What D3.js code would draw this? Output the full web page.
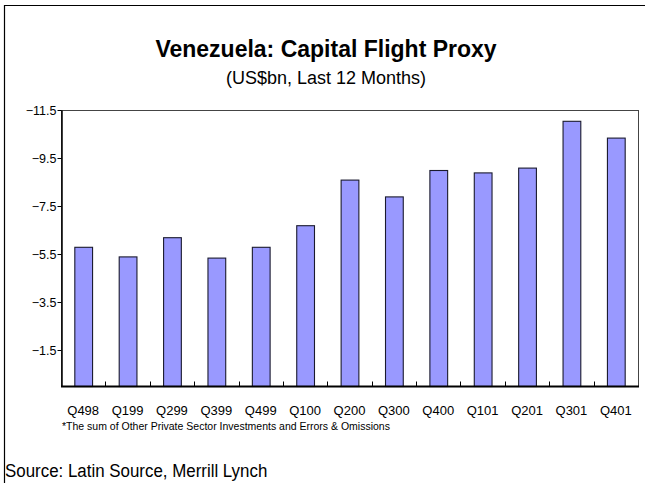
<!DOCTYPE html>
<html>
<head>
<meta charset="utf-8">
<script src="https://cdn.jsdelivr.net/npm/d3@7/dist/d3.min.js"></script>
<style>
  html, body { margin: 0; padding: 0; background: #fff; }
  svg { display: block; }
  text { font-family: "Liberation Sans", Arial, sans-serif; fill: #000; }
</style>
</head>
<body>
<svg id="chart" width="645" height="483"></svg>
<script>
// Quarterly capital flight proxy, US$bn, trailing 12 months
const quarters = ["Q498", "Q199", "Q299", "Q399", "Q499", "Q100", "Q200",
                  "Q300", "Q400", "Q101", "Q201", "Q301", "Q401"];
const flight = [-5.8, -5.4, -6.2, -5.35, -5.8, -6.7, -8.6,
                -7.9, -9.0, -8.9, -9.1, -11.05, -10.35];
const yTicks = [-11.5, -9.5, -7.5, -5.5, -3.5, -1.5];

const titleText = "Venezuela: Capital Flight Proxy";
const subtitleText = "(US$bn, Last 12 Months)";
const footnoteText = "*The sum of Other Private Sector Investments and Errors & Omissions";
const sourceText = "Source: Latin Source, Merrill Lynch";

const svg = d3.select("#chart");
const W = 645, H = 483;
const plot = { left: 61, right: 638, top: 110, bottom: 386 };

// outer frame (top and left edges)
svg.append("path")
  .attr("d", `M4.5,${H} L4.5,5.5 L${W},5.5`)
  .attr("fill", "none").attr("stroke", "#000").attr("stroke-width", 1.2);

// titles
svg.append("text").attr("x", 326).attr("y", 57)
  .attr("text-anchor", "middle")
  .style("font-size", "23px").style("font-weight", "bold")
  .text(titleText);
svg.append("text").attr("x", 326).attr("y", 84)
  .attr("text-anchor", "middle")
  .style("font-size", "18px")
  .text(subtitleText);

// scales: values are negative, drawn upward from zero
const x = d3.scaleBand().domain(quarters)
  .range([plot.left, plot.right]).paddingInner(0.6).paddingOuter(0.3);
const y = d3.scaleLinear().domain([0, -11.5]).range([plot.bottom, plot.top]);

// plot frame
svg.append("rect")
  .attr("x", plot.left + 0.5).attr("y", plot.top + 0.5)
  .attr("width", plot.right - plot.left).attr("height", plot.bottom - plot.top)
  .attr("fill", "none").attr("stroke", "#444").attr("stroke-width", 1);

// bars
svg.append("g").selectAll("rect").data(flight).join("rect")
  .attr("x", (d, i) => x(quarters[i]) + 0.5)
  .attr("y", d => y(d) + 0.5)
  .attr("width", x.bandwidth())
  .attr("height", d => y(0) - y(d))
  .attr("fill", "#9999ff")
  .attr("stroke", "#1a1a2e").attr("stroke-width", 1.1);

// y axis
const yAxis = d3.axisLeft(y).tickValues(yTicks).tickSize(4).tickSizeOuter(0)
  .tickFormat(d3.format(".1f"));
const gy = svg.append("g").attr("transform", `translate(${plot.left + 0.5},0)`).call(yAxis);
gy.select(".domain").attr("stroke", "#000").attr("stroke-width", 1.5);
gy.selectAll(".tick line").attr("stroke", "#000");
gy.selectAll(".tick text").attr("x", -5).attr("dy", "0.35em")
  .style("font-family", "'Liberation Sans', Arial, sans-serif")
  .style("font-size", "12.5px").attr("fill", "#000");

// x axis: labels centred under bars, ticks at category boundaries pointing inward
const gx = svg.append("g").attr("transform", `translate(0,${plot.bottom + 0.5})`);
gx.append("line").attr("x1", plot.left).attr("x2", plot.right + 1)
  .attr("stroke", "#000").attr("stroke-width", 2);
const step = x.step();
const bounds = d3.range(1, quarters.length).map(i => plot.left + i * step);
gx.selectAll("line.tk").data(bounds).join("line").attr("class", "tk")
  .attr("x1", d => Math.round(d) + 0.5).attr("x2", d => Math.round(d) + 0.5)
  .attr("y1", 0).attr("y2", -5).attr("stroke", "#000");
gx.selectAll("text").data(quarters).join("text")
  .attr("x", d => x(d) + x.bandwidth() / 2)
  .attr("y", 28)
  .attr("text-anchor", "middle")
  .style("font-size", "13px")
  .text(d => d);

// footnote and source
svg.append("text").attr("x", 62).attr("y", 430)
  .style("font-size", "10.5px").text(footnoteText);
svg.append("text")
  .attr("transform", "translate(5,477) scale(0.89,1)")
  .style("font-size", "19px")
  .text(sourceText);
</script>
</body>
</html>
